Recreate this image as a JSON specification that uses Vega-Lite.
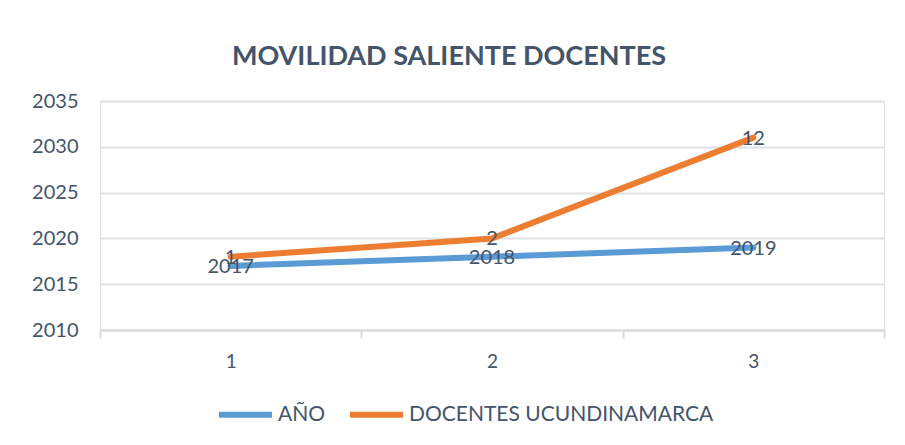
{
  "$schema": "https://vega.github.io/schema/vega-lite/v6.json",
  "width": 784,
  "height": 229,
  "autosize": {"type": "none"},
  "padding": {"left": 100, "top": 101, "right": 21, "bottom": 115},
  "background": "white",
  "title": {"text": "MOVILIDAD SALIENTE DOCENTES", "fontSize": 27, "font": "Lato", "fontWeight": "bold", "color": "#44546A", "anchor": "middle", "dx": -43, "offset": 20},
  "data": {"values": [
    {"x": "1", "series": "AÑO", "ord": 1, "value": 2017},
    {"x": "2", "series": "AÑO", "ord": 1, "value": 2018},
    {"x": "3", "series": "AÑO", "ord": 1, "value": 2019},
    {"x": "1", "series": "DOCENTES UCUNDINAMARCA", "ord": 2, "value": 1},
    {"x": "2", "series": "DOCENTES UCUNDINAMARCA", "ord": 2, "value": 2},
    {"x": "3", "series": "DOCENTES UCUNDINAMARCA", "ord": 2, "value": 12}
  ]},
  "transform": [
    {"stack": "value", "groupby": ["x"], "sort": [{"field": "ord", "order": "ascending"}], "offset": "zero", "as": ["y0", "y1"]}
  ],
  "encoding": {
    "x": {"field": "x", "type": "ordinal", "scale": {"type": "band", "paddingInner": 0, "paddingOuter": 0},
      "axis": {"title": null, "labelAngle": 0, "domainColor": "#D9D9D9", "domainWidth": 2, "tickColor": "#D9D9D9", "tickWidth": 2, "tickSize": 8, "tickBand": "extent", "labelFont": "Lato", "labelFontSize": 19, "labelColor": "#44546A", "labelPadding": 14, "grid": false}},
    "y": {"field": "y1", "type": "quantitative", "scale": {"domain": [2010, 2035], "zero": false, "nice": false},
      "axis": {"title": null, "domain": false, "ticks": false, "grid": true, "gridColor": "#DDE1E6", "gridWidth": 2, "values": [2010, 2015, 2020, 2025, 2030, 2035], "format": "d", "labelFont": "Lato", "labelFontSize": 20, "labelColor": "#44546A", "labelPadding": 22}}
  },
  "layer": [
    {"mark": {"type": "line", "strokeWidth": 6, "strokeCap": "round", "strokeJoin": "round"},
     "encoding": {"color": {"field": "series", "type": "nominal",
       "scale": {"domain": ["AÑO", "DOCENTES UCUNDINAMARCA"], "range": ["#5B9BD5", "#ED7D31"]},
       "legend": {"title": null, "orient": "none", "legendX": 116, "legendY": 284, "direction": "horizontal", "symbolType": "stroke", "symbolStrokeWidth": 6, "symbolSize": 2809, "labelFont": "Lato", "labelFontSize": 21, "labelColor": "#44546A", "labelOffset": 3, "labelLimit": 0, "columnPadding": 12}}}},
    {"mark": {"type": "text", "font": "Lato", "fontSize": 20, "color": "#44546A", "dy": 1},
     "encoding": {"text": {"field": "value", "type": "quantitative", "format": "d"}, "detail": {"field": "series"}}}
  ]
}
